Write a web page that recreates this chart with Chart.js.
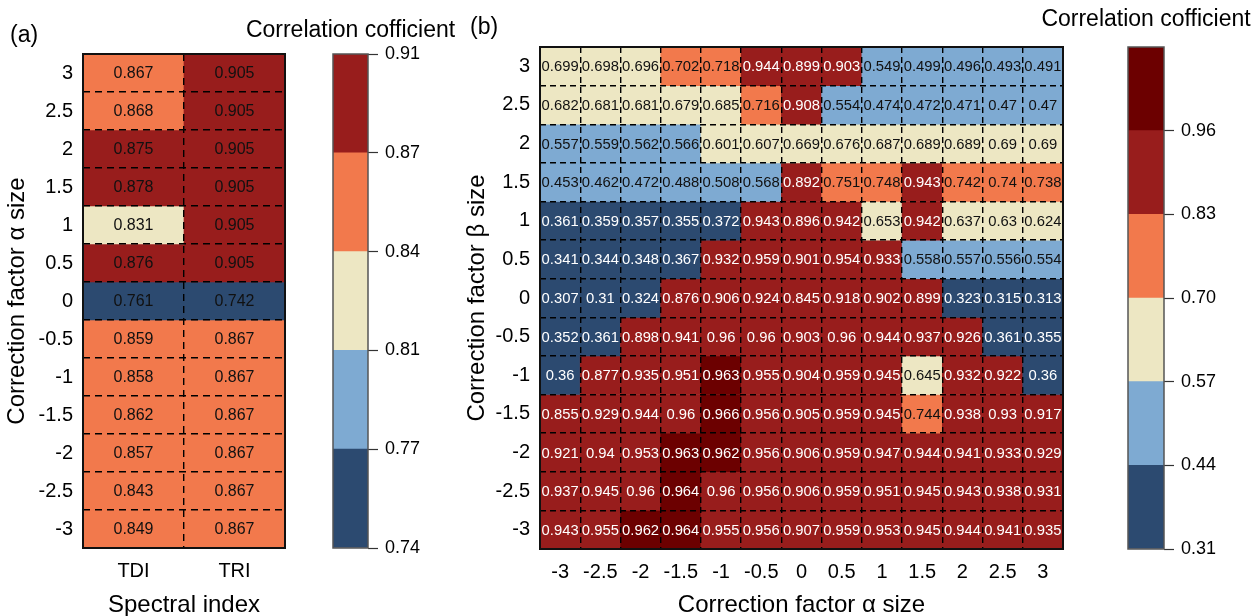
<!DOCTYPE html>
<html>
<head>
<meta charset="utf-8">
<script src="https://cdn.jsdelivr.net/npm/chart.js@4.4.1/dist/chart.umd.min.js"></script>
<style>
  html, body { margin: 0; padding: 0; background: #fff; }
  #wrap { position: relative; width: 1255px; height: 616px; overflow: hidden; }
  #wrap canvas { position: absolute; left: 0; top: 0; }
</style>
</head>
<body>
<div id="wrap">
  <canvas id="heatA" width="1255" height="616"></canvas>
  <canvas id="barA" width="1255" height="616"></canvas>
  <canvas id="heatB" width="1255" height="616"></canvas>
  <canvas id="barB" width="1255" height="616"></canvas>
</div>
<script>
// --- data (a) ---
const indexNames = ['TDI', 'TRI'];
const alphaRows = [3, 2.5, 2, 1.5, 1, 0.5, 0, -0.5, -1, -1.5, -2, -2.5, -3];
const tdiValues = [0.867, 0.868, 0.875, 0.878, 0.831, 0.876, 0.761, 0.859, 0.858, 0.862, 0.857, 0.843, 0.849];
const triValues = [0.905, 0.905, 0.905, 0.905, 0.905, 0.905, 0.742, 0.867, 0.867, 0.867, 0.867, 0.867, 0.867];
const ticksA = ['0.74', '0.77', '0.81', '0.84', '0.87', '0.91'];

// --- data (b) --- rows = beta (top to bottom), cols = alpha
const alphaCols = ['-3', '-2.5', '-2', '-1.5', '-1', '-0.5', '0', '0.5', '1', '1.5', '2', '2.5', '3'];
const betaRows = [3, 2.5, 2, 1.5, 1, 0.5, 0, -0.5, -1, -1.5, -2, -2.5, -3];
const valuesB = [
  [0.699, 0.698, 0.696, 0.702, 0.718, 0.944, 0.899, 0.903, 0.549, 0.499, 0.496, 0.493, 0.491],
  [0.682, 0.681, 0.681, 0.679, 0.685, 0.716, 0.908, 0.554, 0.474, 0.472, 0.471, 0.47, 0.47],
  [0.557, 0.559, 0.562, 0.566, 0.601, 0.607, 0.669, 0.676, 0.687, 0.689, 0.689, 0.69, 0.69],
  [0.453, 0.462, 0.472, 0.488, 0.508, 0.568, 0.892, 0.751, 0.748, 0.943, 0.742, 0.74, 0.738],
  [0.361, 0.359, 0.357, 0.355, 0.372, 0.943, 0.896, 0.942, 0.653, 0.942, 0.637, 0.63, 0.624],
  [0.341, 0.344, 0.348, 0.367, 0.932, 0.959, 0.901, 0.954, 0.933, 0.558, 0.557, 0.556, 0.554],
  [0.307, 0.31, 0.324, 0.876, 0.906, 0.924, 0.845, 0.918, 0.902, 0.899, 0.323, 0.315, 0.313],
  [0.352, 0.361, 0.898, 0.941, 0.96, 0.96, 0.903, 0.96, 0.944, 0.937, 0.926, 0.361, 0.355],
  [0.36, 0.877, 0.935, 0.951, 0.963, 0.955, 0.904, 0.959, 0.945, 0.645, 0.932, 0.922, 0.36],
  [0.855, 0.929, 0.944, 0.96, 0.966, 0.956, 0.905, 0.959, 0.945, 0.744, 0.938, 0.93, 0.917],
  [0.921, 0.94, 0.953, 0.963, 0.962, 0.956, 0.906, 0.959, 0.947, 0.944, 0.941, 0.933, 0.929],
  [0.937, 0.945, 0.96, 0.964, 0.96, 0.956, 0.906, 0.959, 0.951, 0.945, 0.943, 0.938, 0.931],
  [0.943, 0.955, 0.962, 0.964, 0.955, 0.956, 0.907, 0.959, 0.953, 0.945, 0.944, 0.941, 0.935]
];
const ticksB = ['0.31', '0.44', '0.57', '0.70', '0.83', '0.96', ''];

// colours of the classes, low -> high
const DARKBLUE = '#2c4a70', LIGHTBLUE = '#7eaad2', BEIGE = '#ede7c3', ORANGE = '#f2794c', RED = '#981d1c', MAROON = '#6c0000';
const colorsA = [DARKBLUE, LIGHTBLUE, BEIGE, ORANGE, RED];
const colorsB = [DARKBLUE, LIGHTBLUE, BEIGE, ORANGE, RED, MAROON];

Chart.defaults.font.family = "'Liberation Sans', Arial, sans-serif";
Chart.defaults.color = '#000';

function classOf(v, ticks) {
  let k = 0;
  for (let i = 1; i < ticks.length; i++) {
    if (ticks[i] !== '' && v > parseFloat(ticks[i])) k = i;
  }
  return k;
}

// draws cell values, frame and panel tag
const cellLabels = {
  id: 'cellLabels',
  afterDraw(chart, args, o) {
    const ctx = chart.ctx;
    const a = chart.chartArea;
    ctx.save();
    ctx.font = o.size + "px 'Liberation Sans', Arial, sans-serif";
    ctx.textAlign = 'center';
    ctx.textBaseline = 'middle';
    chart.data.datasets.forEach((ds, di) => {
      chart.getDatasetMeta(di).data.forEach((bar, j) => {
        const c = bar.getCenterPoint();
        ctx.fillStyle = ds.labelColors[j];
        ctx.fillText(String(ds.values[j]), c.x, c.y + 1);
      });
    });
    ctx.strokeStyle = '#111';
    ctx.lineWidth = 2;
    ctx.strokeRect(a.left, a.top, a.right - a.left, a.bottom - a.top);
    ctx.fillStyle = '#000';
    ctx.textAlign = 'left';
    ctx.font = "23px 'Liberation Sans', Arial, sans-serif";
    ctx.fillText(o.tag, o.tagX, o.tagY);
    ctx.restore();
  }
};

const barFrame = {
  id: 'barFrame',
  afterDraw(chart, args, o) {
    const ctx = chart.ctx;
    const a = chart.chartArea;
    ctx.save();
    ctx.strokeStyle = '#555';
    ctx.lineWidth = 1.5;
    ctx.strokeRect(a.left, a.top, a.right - a.left, a.bottom - a.top);
    ctx.fillStyle = '#000';
    ctx.textAlign = 'center';
    ctx.textBaseline = 'middle';
    ctx.font = "23px 'Liberation Sans', Arial, sans-serif";
    ctx.fillText(o.title, (a.left + a.right) / 2, o.titleY);
    ctx.restore();
  }
};

function heatmap(id, cols, rows, grid, cfg) {
  const datasets = rows.map((r, i) => ({
    data: grid[i].map(() => [r - 0.25, r + 0.25]),
    values: grid[i],
    backgroundColor: grid[i].map(v => cfg.colors[classOf(v, cfg.ticks)]),
    labelColors: grid[i].map(v => cfg.whiteText.includes(classOf(v, cfg.ticks)) ? '#fff' : '#111'),
    borderWidth: 0,
    grouped: false,
    barPercentage: 1,
    categoryPercentage: 1
  }));
  const rowTicks = rows.slice().sort((a, b) => a - b);
  return new Chart(document.getElementById(id), {
    type: 'bar',
    data: { labels: cols, datasets },
    plugins: [cellLabels],
    options: {
      responsive: false,
      animation: false,
      layout: { padding: cfg.padding },
      plugins: {
        legend: { display: false },
        tooltip: { enabled: false },
        cellLabels: { size: cfg.cellFont, tag: cfg.tag, tagX: cfg.tagX, tagY: cfg.tagY }
      },
      scales: {
        x: {
          offset: true,
          grid: { offset: true, z: 1, color: '#000', lineWidth: 1.4, drawTicks: false },
          border: { display: false, dash: cfg.dash },
          ticks: { font: { size: 20 }, color: '#000', padding: 11, autoSkip: false, maxRotation: 0, minRotation: 0 },
          title: { display: true, text: cfg.xTitle, font: { size: 24 }, color: '#000', padding: { top: 0, bottom: -4 } },
          afterFit: s => { s.height = cfg.xHeight; }
        },
        y: {
          type: 'linear',
          min: rowTicks[0] - 0.25,
          max: rowTicks[rowTicks.length - 1] + 0.25,
          afterBuildTicks: s => { s.ticks = rowTicks.map(v => ({ value: v })); },
          grid: { offset: true, z: 1, color: '#000', lineWidth: 1.4, drawTicks: false },
          border: { display: false, dash: cfg.dash },
          ticks: { font: { size: 20 }, color: '#000', padding: 10, callback: v => String(v) },
          title: { display: true, text: cfg.yTitle, font: { size: 24 }, color: '#000', padding: { top: 3, bottom: 0 } },
          afterFit: s => { s.width = cfg.yWidth; }
        }
      }
    }
  });
}

function colorbar(id, colors, labels, cfg) {
  return new Chart(document.getElementById(id), {
    type: 'bar',
    data: {
      labels: [''],
      datasets: colors.map(c => ({ data: [1], backgroundColor: c, borderWidth: 0, barPercentage: 1, categoryPercentage: 1 }))
    },
    plugins: [barFrame],
    options: {
      responsive: false,
      animation: false,
      layout: { padding: cfg.padding },
      plugins: {
        legend: { display: false },
        tooltip: { enabled: false },
        barFrame: { title: 'Correlation cofficient', titleY: cfg.titleY }
      },
      scales: {
        x: { display: false, stacked: true },
        y: {
          stacked: true,
          position: 'right',
          min: 0,
          max: colors.length,
          afterBuildTicks: s => { s.ticks = labels.map((t, i) => ({ value: i })); },
          ticks: { font: { size: 18 }, color: '#000', padding: 7, callback: (v, i) => labels[i] },
          grid: {
            drawOnChartArea: false, drawTicks: true, tickLength: 10, tickWidth: 1.2,
            tickColor: c => labels[c.index] === '' ? 'rgba(0,0,0,0)' : '#333'
          },
          border: { display: false },
          afterFit: s => { s.width = 60; }
        }
      }
    }
  });
}

// (a) spectral index heatmap
const gridA = alphaRows.map((r, i) => [tdiValues[i], triValues[i]]);
heatmap('heatA', indexNames, alphaRows, gridA, {
  colors: colorsA, ticks: ticksA, whiteText: [],
  padding: { left: 0, top: 54, right: 970, bottom: 0 },
  xHeight: 68, yWidth: 83, cellFont: 16, dash: [7, 5],
  xTitle: 'Spectral index', yTitle: 'Correction factor α size',
  tag: '(a)', tagX: 10, tagY: 36
});
colorbar('barA', colorsA, ticksA, {
  padding: { left: 333, top: 54, right: 827, bottom: 68 }, titleY: 31
});

// (b) alpha / beta heatmap
heatmap('heatB', alphaCols, betaRows, valuesB, {
  colors: colorsB, ticks: ticksB, whiteText: [0, 4, 5],
  padding: { left: 460, top: 47, right: 192, bottom: 0 },
  xHeight: 67, yWidth: 80, cellFont: 14.8, dash: [6, 4],
  xTitle: 'Correction factor α size', yTitle: 'Correction factor β size',
  tag: '(b)', tagX: 470, tagY: 28
});
colorbar('barB', colorsB, ticksB, {
  padding: { left: 1128, top: 47, right: 31, bottom: 67 }, titleY: 20
});
</script>
</body>
</html>
